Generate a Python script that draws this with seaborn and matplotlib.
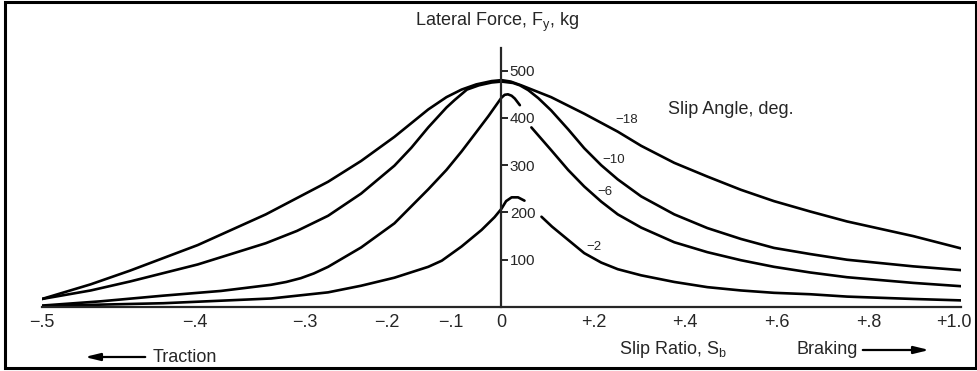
import numpy as np
import pandas as pd
import matplotlib.pyplot as plt
from matplotlib.patches import Rectangle
from matplotlib.transforms import ScaledTranslation
import seaborn as sns

# Lateral force (kg) vs slip ratio.
# Negative slip (traction) side is plotted as s/(1+s), braking side as s.
slip_18_left = [-0.5, -0.472, -0.447, -0.398, -0.339, -0.274, -0.234, -0.189, -0.1375, -0.107, -0.08, -0.052, -0.021, 0.0]
force_18_left = [17, 48, 77, 131, 196, 265, 309, 360, 418, 444, 460, 471, 478, 480]
slip_18_right = [0.0, 0.02, 0.043, 0.108, 0.18, 0.253, 0.304, 0.376, 0.448, 0.521, 0.593, 0.672, 0.752, 0.896, 1.0]
force_18_right = [480, 477, 469, 444, 409, 371, 341, 305, 276, 248, 224, 202, 181, 150, 124]

slip_10_left = [-0.5, -0.472, -0.447, -0.398, -0.339, -0.308, -0.274, -0.234, -0.189, -0.164, -0.1375, -0.107, -0.0925,
                -0.07, -0.047, -0.021, 0.0]
force_10_left = [17, 35, 54, 90, 135, 161, 193, 240, 299, 337, 380, 422, 438, 460, 469, 475, 477]
slip_10_right = [0.0, 0.025, 0.04, 0.058, 0.08, 0.108, 0.145, 0.18, 0.217, 0.253, 0.304, 0.376, 0.448, 0.521, 0.593, 0.672, 0.752, 0.896, 1.0]
force_10_right = [477, 474, 469, 459, 442, 416, 376, 336, 300, 270, 234, 196, 167, 144, 125, 112, 100, 86, 78]

slip_6_left = [-0.5, -0.466, -0.424, -0.379, -0.334, -0.319, -0.304, -0.29, -0.274, -0.234, -0.189, -0.1375, -0.107, -0.08,
               -0.052, -0.0276, -0.0044, 0.0, 0.007, 0.014, 0.022, 0.029, 0.04]
force_6_left = [3, 12, 24, 34, 47, 53, 61, 71, 85, 126, 177, 249, 290, 329, 370, 404, 437, 443, 449, 450, 447, 441, 427]
slip_6_right = [0.065, 0.108, 0.145, 0.18, 0.217, 0.253, 0.304, 0.376, 0.448, 0.521, 0.593, 0.672, 0.752, 0.896, 1.0]
force_6_right = [380, 332, 290, 255, 223, 196, 168, 137, 116, 99, 85, 73, 63, 51, 44]

slip_2_left = [-0.5, -0.466, -0.424, -0.334, -0.274, -0.234, -0.189, -0.1375, -0.115, -0.08, -0.0416, -0.015, 0.0, 0.01,
               0.022, 0.036, 0.05]
force_2_left = [2, 5, 8, 18, 31, 45, 62, 85, 98, 128, 163, 190, 208, 224, 232, 232, 225]
slip_2_right = [0.087, 0.11, 0.145, 0.18, 0.217, 0.253, 0.304, 0.376, 0.448, 0.521, 0.593, 0.672, 0.752, 0.896, 1.0]
force_2_right = [191, 170, 142, 114, 94, 80, 67, 53, 42, 35, 30, 27, 22, 17, 14]

x_ticks = [-0.5, -0.4, -0.3, -0.2, -0.1, 0.0, 0.2, 0.4, 0.6, 0.8, 1.0]
x_tick_labels = ['\u2212.5', '\u2212.4', '\u2212.3', '\u2212.2', '\u2212.1', '0', '+.2', '+.4', '+.6', '+.8', '+1.0']
y_ticks = [100, 200, 300, 400, 500]

branches = [
    ('-18', slip_18_left, force_18_left), ('-18', slip_18_right, force_18_right),
    ('-10', slip_10_left, force_10_left), ('-10', slip_10_right, force_10_right),
    ('-6', slip_6_left, force_6_left), ('-6', slip_6_right, force_6_right),
    ('-2', slip_2_left, force_2_left), ('-2', slip_2_right, force_2_right),
]


def fwd(s):
    s = np.asarray(s, dtype=float)
    return np.where(s < 0, s / np.maximum(1 + s, 1e-9), s)


def inv(u):
    u = np.asarray(u, dtype=float)
    return np.where(u < 0, u / (1 - u), u)


sns.set_style('white')
plt.rcParams['font.family'] = ['Liberation Sans', 'DejaVu Sans']
plt.rcParams['mathtext.default'] = 'regular'

fig = plt.figure(figsize=(9.78, 3.71), dpi=100)
ax = fig.add_axes([42 / 978, 64 / 371, 919 / 978, 259 / 371])
ax.set_xscale('function', functions=(fwd, inv))

for angle, s, f in branches:
    df = pd.DataFrame({'slip': s, 'force': f})
    sns.lineplot(data=df, x='slip', y='force', sort=False, estimator=None,
                 color='black', linewidth=1.9, ax=ax)

ax.set_xlim(-0.5, 1.0)
ax.set_ylim(0, 548)

# y axis sits at slip = 0 with ticks/labels to the right
ax.spines['top'].set_visible(False)
ax.spines['left'].set_visible(False)
ax.spines['right'].set_position(('data', 0))
ax.spines['right'].set_linewidth(1.6)
ax.spines['bottom'].set_linewidth(1.6)
ax.yaxis.tick_right()

ax.set_xticks(x_ticks)
ax.set_xticklabels(x_tick_labels)
ax.set_yticks(y_ticks)
ax.set_yticklabels([str(v) for v in y_ticks])
ax.tick_params(axis='x', direction='in', length=5, width=1.4, pad=5, labelsize=13)
ax.tick_params(axis='y', direction='out', length=5, width=1.4, pad=1, labelsize=11)
ax.set_xlabel('')
ax.set_ylabel('')
ax.minorticks_off()

# last tick label sits a little left of its tick in the original
last = ax.get_xticklabels()[-1]
last.set_transform(last.get_transform() + ScaledTranslation(-0.07, 0, fig.dpi_scale_trans))

# curve labels
ax.text(0.273, 395, '\u221218', fontsize=9.5, ha='center', va='center')
ax.text(0.245, 312, '\u221210', fontsize=9.5, ha='center', va='center')
ax.text(0.2256, 243, '\u22126', fontsize=9.5, ha='center', va='center')
ax.text(0.2017, 127, '\u22122', fontsize=9.5, ha='center', va='center')

fig.text(497 / 978, 1 - 22 / 371, 'Lateral Force, F$_y$, kg', ha='center', va='center', fontsize=13)
fig.text(668 / 978, 1 - 110 / 371, 'Slip Angle, deg.', ha='left', va='center', fontsize=13)
fig.text(673 / 978, 1 - 349 / 371, 'Slip Ratio, S$_b$', ha='center', va='center', fontsize=13)
fig.text(797 / 978, 1 - 350 / 371, 'Braking', ha='left', va='center', fontsize=13)
fig.text(153 / 978, 1 - 357 / 371, 'Traction', ha='left', va='center', fontsize=13)

arrow = dict(arrowstyle='-|>,head_length=0.9,head_width=0.22', color='black', lw=1.6)
fig.patches.append(Rectangle((5 / 978, 1 - 368 / 371), 971 / 978, 366 / 371,
                             transform=fig.transFigure, fill=False, lw=2.2, color='black'))
ax.annotate('', xy=(932 / 978, 1 - 350 / 371), xytext=(860 / 978, 1 - 350 / 371),
            xycoords='figure fraction', textcoords='figure fraction', arrowprops=arrow)
ax.annotate('', xy=(82 / 978, 1 - 357 / 371), xytext=(148 / 978, 1 - 357 / 371),
            xycoords='figure fraction', textcoords='figure fraction', arrowprops=arrow)

fig.savefig('out.png', dpi=100)
plt.close(fig)
